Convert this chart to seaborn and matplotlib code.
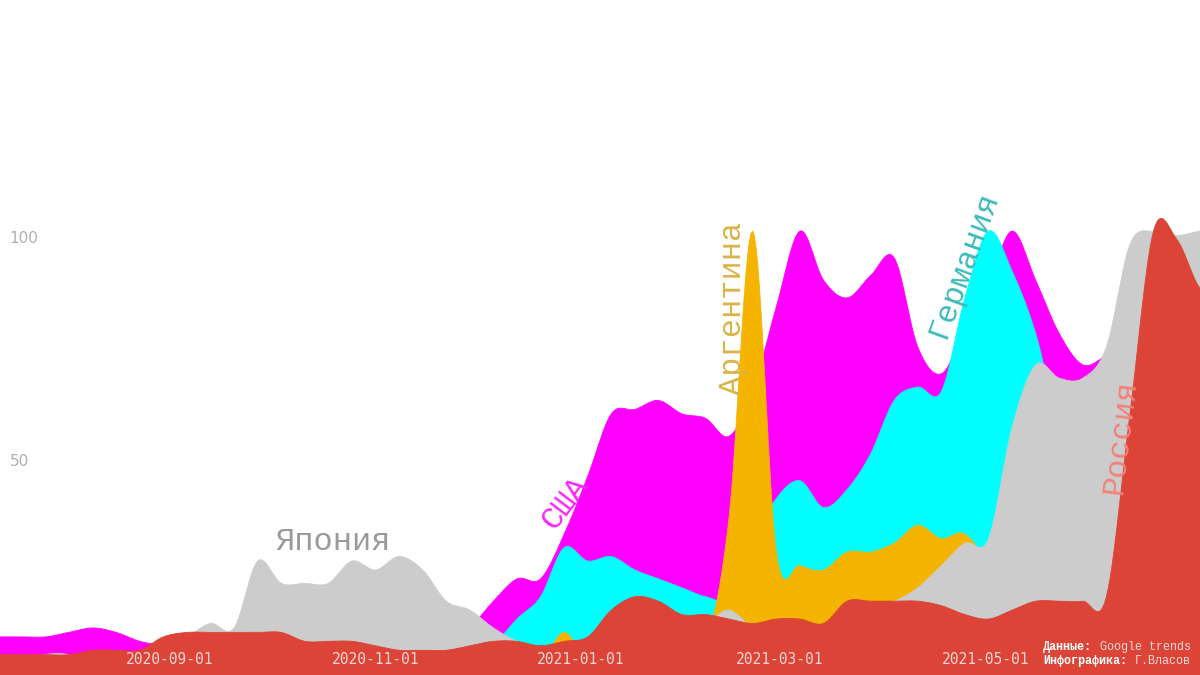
import numpy as np
import pandas as pd
import matplotlib
matplotlib.use("Agg")
import matplotlib.pyplot as plt
import seaborn as sns

# weekly Google Trends values, 2020-07-12 .. 2021-07-04
weeks = pd.date_range("2020-07-12", periods=52, freq="7D")

usa = [9, 9, 9, 10, 11, 10, 8, 7, 6, 6, 6, 6, 6, 6, 6, 6, 6, 6, 6, 7,
       11, 17, 22, 22, 32, 45, 59, 60, 62, 59, 58, 54, 64, 83, 100, 89, 85, 90, 94, 74,
       68, 78, 88, 100, 89, 77, 70, 72, 74, 73, 72, 70]
germany = [2, 2, 2, 2, 2, 2, 2, 2, 2, 2, 2, 2, 2, 2, 2, 2, 2, 2, 2, 2,
           2, 7, 13, 18, 29, 26, 27, 24, 22, 20, 18, 18, 30, 40, 44, 38, 42, 50, 62, 65,
           64, 85, 100, 91, 77, 56, 46, 38, 33, 28, 26, 23]
argentina = [2, 2, 2, 2, 2, 2, 2, 2, 2, 2, 2, 2, 2, 2, 2, 2, 2, 2, 2, 2,
             2, 2, 2, 3, 10, 3, 3, 3, 3, 4, 7, 36, 100, 28, 25, 24, 28, 28, 30, 34,
             31, 32, 24, 6, 4, 3, 3, 3, 3, 3, 3, 3]
japan = [3, 3, 5, 5, 3, 3, 4, 7, 9, 12, 11, 26, 21, 21, 21, 26, 24, 27, 24, 17,
         15, 11, 8, 6, 5, 5, 6, 7, 8, 10, 12, 15, 11, 10, 10, 10, 13, 16, 17, 20,
         25, 30, 31, 56, 70, 67, 67, 74, 97, 100, 99, 100]
russia = [5, 5, 5, 5, 6, 6, 6, 9, 10, 10, 10, 10, 10, 8, 8, 8, 7, 6, 6, 6,
          7, 8, 8, 7, 8, 9, 15, 18, 17, 14, 14, 13, 12, 13, 13, 12, 17, 17, 17, 17,
          16, 14, 13, 15, 17, 17, 17, 18, 59, 100, 98, 87]

series = [
    ("США", usa, "#ff00ff"),
    ("Германия", germany, "#00ffff"),
    ("Аргентина", argentina, "#f4b400"),
    ("Япония", japan, "#cccccc"),
    ("Россия", russia, "#db4437"),
]

tick_dates = ["2020-09-01", "2020-11-01", "2021-01-01", "2021-03-01", "2021-05-01"]

# name, date, value, rotation, colour
labels = [
    ("Япония", "2020-10-19 10:00", 30.3, 0, "#9a9a9a"),
    ("США", "2020-12-27 06:00", 39.0, 53, "#ff22ff"),
    ("Аргентина", "2021-02-15 05:00", 82.7, 90, "#d9b548"),
    ("Германия", "2021-04-24 12:00", 92.4, 70, "#3dbaba"),
    ("Россия", "2021-06-10 08:00", 53.8, 83, "#f2827a"),
]


def smooth(values, steps=14):
    # catmull-rom through the weekly points
    y = np.asarray(values, dtype=float)
    p = np.concatenate([[y[0]], y, [y[-1]]])
    t = np.linspace(0, 1, steps, endpoint=False)
    h00 = 2 * t**3 - 3 * t**2 + 1
    h10 = t**3 - 2 * t**2 + t
    h01 = -2 * t**3 + 3 * t**2
    h11 = t**3 - t**2
    xs, ys = [], []
    for i in range(len(y) - 1):
        m0 = (p[i + 2] - p[i]) / 2
        m1 = (p[i + 3] - p[i + 1]) / 2
        ys.append(h00 * p[i + 1] + h10 * m0 + h01 * p[i + 2] + h11 * m1)
        xs.append((i + t) * 7)
    xs.append([(len(y) - 1) * 7])
    ys.append([y[-1]])
    days = np.concatenate(xs)
    vals = np.clip(np.concatenate(ys), 0, None)
    return weeks[0] + pd.to_timedelta(days, unit="D"), vals


sns.set_theme(style="white")
plt.rcParams["font.family"] = ["DejaVu Sans"]

fig = plt.figure(figsize=(12, 6.75), dpi=100)
ax = fig.add_axes([0, 0, 1, 1])
ax.set_axisbelow(False)  # tick labels sit on top of the areas

for z, (name, vals, color) in enumerate(series):
    xd, yd = smooth(vals)
    ax.fill_between(xd, 0, yd, color=color, lw=0, zorder=1 + 0.2 * z)
    sns.lineplot(x=xd, y=yd, color=color, lw=0.6, ax=ax, zorder=1 + 0.2 * z,
                 estimator=None, sort=False)

for name, d, v, rot, color in labels:
    ax.text(pd.Timestamp(d), v, name, rotation=rot, rotation_mode="anchor",
            ha="center", va="center", color=color, fontsize=23,
            family="Liberation Mono", zorder=10)

ax.set_xlim(pd.Timestamp("2020-07-12 12:00"), pd.Timestamp("2021-07-03 19:00"))
ax.set_ylim(0.45, 151.8)
for side in ax.spines.values():
    side.set_visible(False)
ax.set_xlabel("")
ax.set_ylabel("")

ax.set_xticks(pd.to_datetime(tick_dates))
ax.set_xticklabels(tick_dates, family="DejaVu Sans Mono")
ax.tick_params(axis="x", direction="in", length=0, pad=-11.5,
               labelcolor=(1, 1, 1, 0.78), labelsize=10.5)
for lbl in ax.get_xticklabels():
    lbl.set_va("center")

ax.set_yticks([50, 100])
ax.set_yticklabels(["50", "100"])
ax.tick_params(axis="y", direction="in", length=0, pad=-7,
               labelcolor="#b0b0b0", labelsize=11)
for lbl in ax.get_yticklabels():
    lbl.set_ha("left")
    lbl.set_va("top")

# credits
x0 = 1043 / 1200
cw = 7.08 / 1200
for row, (key, val) in enumerate([("Данные:", "Google trends"),
                                  ("Инфографика:", "Г.Власов")]):
    yy = 1 - (647 + 14 * row) / 675
    ax.text(x0, yy, key, transform=ax.transAxes, ha="left", va="center",
            fontsize=8.5, family="Liberation Mono", weight="bold",
            color="white", zorder=11)
    ax.text(x0 + cw * (len(key) + 1), yy, val, transform=ax.transAxes,
            ha="left", va="center", fontsize=8.5, family="Liberation Mono",
            color=(1, 1, 1, 0.8), zorder=11)

fig.savefig("out.png", dpi=100)
